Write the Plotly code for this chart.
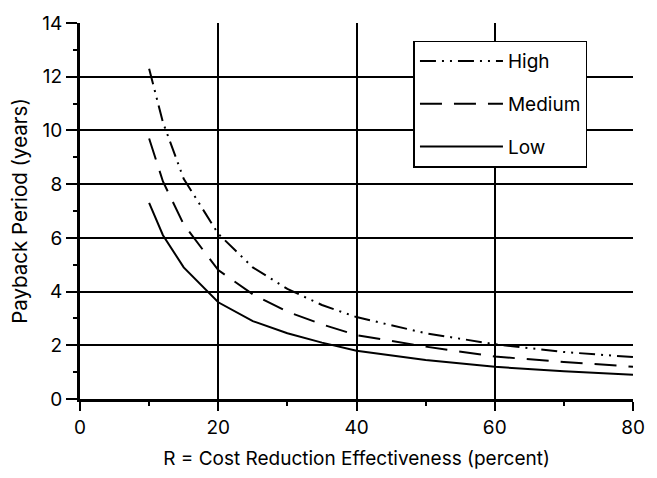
import plotly.graph_objects as go

R = [10, 12, 15, 20, 25, 30, 35, 40, 50, 60, 70, 80]
high = [12.3, 10.3, 8.2, 6.15, 4.9, 4.1, 3.5, 3.05, 2.45, 2.04, 1.75, 1.56]
medium = [9.7, 8.1, 6.5, 4.8, 3.9, 3.25, 2.78, 2.38, 1.95, 1.58, 1.38, 1.2]
low = [7.3, 6.1, 4.9, 3.6, 2.9, 2.45, 2.1, 1.8, 1.45, 1.2, 1.03, 0.9]

x_ticks = [0, 20, 40, 60, 80]
y_ticks = [0, 2, 4, 6, 8, 10, 12, 14]

FONT = "Inter, Liberation Sans, Arial, sans-serif"

fig = go.Figure()
fig.add_trace(go.Scatter(x=R, y=high, mode="lines", name="High", legendgroup="h",
                         line=dict(color="black", width=2, dash="16px,6px,2px,6px,2px,6px")))
fig.add_trace(go.Scatter(x=R, y=medium, mode="lines", name="Medium", legendgroup="m",
                         line=dict(color="black", width=2, dash="22px,12px")))
fig.add_trace(go.Scatter(x=R, y=low, mode="lines", name="Low", legendgroup="l",
                         line=dict(color="black", width=2)))

fig.update_layout(
    width=657, height=478,
    margin=dict(l=80, r=13, t=18, b=76),
    paper_bgcolor="white", plot_bgcolor="white",
    font=dict(family=FONT, size=19, color="black"),
    showlegend=True,
    legend=dict(
        x=0.603, y=0.953, xanchor="left", yanchor="top",
        bgcolor="white", bordercolor="black", borderwidth=1.5,
        font=dict(family=FONT, size=19, color="black"),
        traceorder="grouped", tracegroupgap=15,
        itemwidth=83,
    ),
    xaxis=dict(
        range=[0, 80], tickvals=x_ticks, ticktext=[str(v) for v in x_ticks],
        showgrid=True, gridcolor="black", gridwidth=1.8,
        showline=True, linecolor="black", linewidth=3,
        ticks="outside", ticklen=9, tickwidth=1.5, tickcolor="black",
        minor=dict(dtick=10, ticks="outside", ticklen=4, tickwidth=1.5, tickcolor="black", showgrid=False),
        zeroline=False,
        tickfont=dict(family=FONT, size=19),
        title=dict(text="R = Cost Reduction Effectiveness (percent)", font=dict(family=FONT, size=19), standoff=14),
    ),
    yaxis=dict(
        range=[0, 14], tickvals=y_ticks, ticktext=[str(v) for v in y_ticks],
        showgrid=True, gridcolor="black", gridwidth=1.8,
        showline=True, linecolor="black", linewidth=3,
        ticks="outside", ticklen=11, tickwidth=1.5, tickcolor="black",
        minor=dict(dtick=1, ticks="outside", ticklen=4, tickwidth=1.5, tickcolor="black", showgrid=False),
        zeroline=False,
        tickfont=dict(family=FONT, size=19),
        title=dict(text="Payback Period (years)", font=dict(family=FONT, size=20.5), standoff=10),
    ),
)

fig.write_html("out.html")
